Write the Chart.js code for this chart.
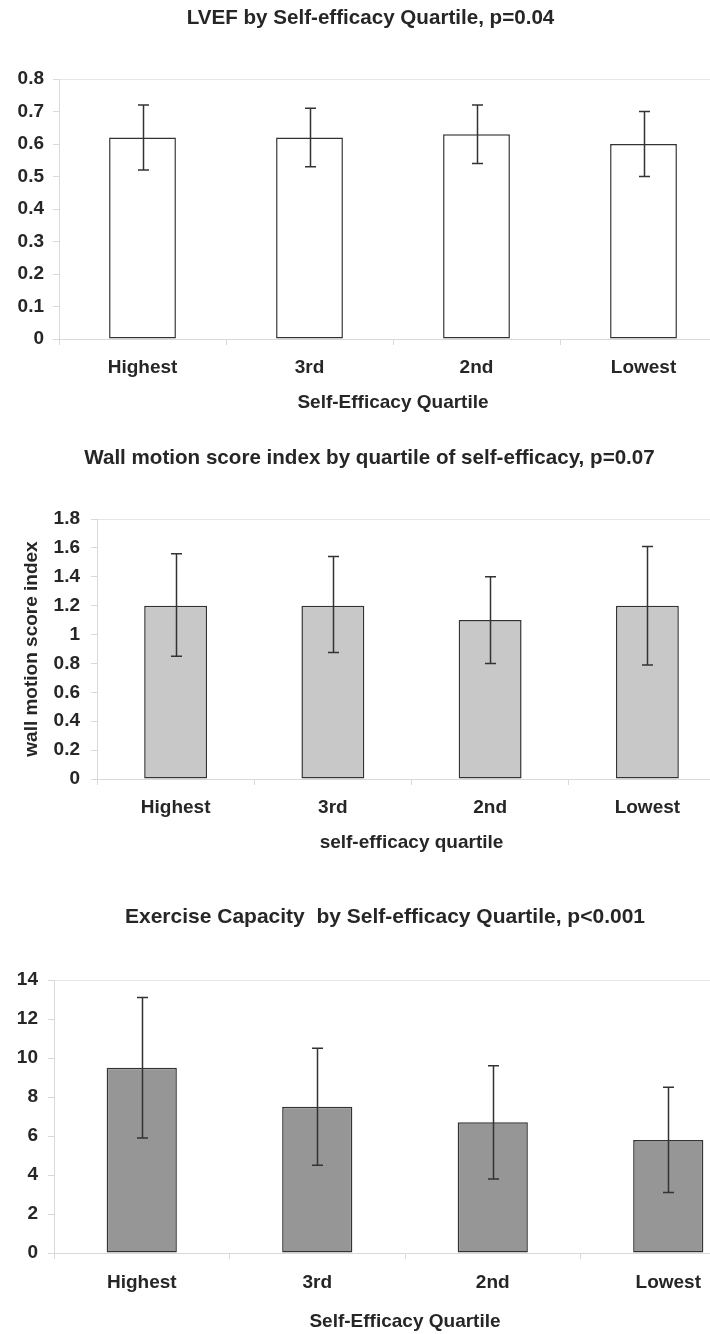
<!DOCTYPE html>
<html>
<head>
<meta charset="utf-8">
<script src="https://cdn.jsdelivr.net/npm/chart.js@4.4.1/dist/chart.umd.min.js"></script>
<style>
  html, body { margin: 0; padding: 0; background: #ffffff; width: 710px; height: 1334px; overflow: hidden; }
  .wrap { position: absolute; left: 0; }
  canvas { display: block; }
</style>
</head>
<body>
<div class="wrap" style="top:0px"><canvas id="c1" width="727" height="420"></canvas></div>
<div class="wrap" style="top:420px"><canvas id="c2" width="726" height="440"></canvas></div>
<div class="wrap" style="top:870px"><canvas id="c3" width="756" height="464"></canvas></div>
<script>
// ---- data ----
const categories = ['Highest', '3rd', '2nd', 'Lowest'];

const lvefMean = [0.62, 0.62, 0.63, 0.60];
const lvefLow  = [0.52, 0.53, 0.54, 0.50];
const lvefHigh = [0.72, 0.71, 0.72, 0.70];
const lvefTicks = ['0', '0.1', '0.2', '0.3', '0.4', '0.5', '0.6', '0.7', '0.8'];

const wmsiMean = [1.2, 1.2, 1.1, 1.2];
const wmsiLow  = [0.85, 0.875, 0.80, 0.79];
const wmsiHigh = [1.56, 1.54, 1.40, 1.61];
const wmsiTicks = ['0', '0.2', '0.4', '0.6', '0.8', '1', '1.2', '1.4', '1.6', '1.8'];

const exMean = [9.5, 7.5, 6.7, 5.8];
const exLow  = [5.9, 4.5, 3.8, 3.1];
const exHigh = [13.1, 10.5, 9.6, 8.5];
const exTicks = ['0', '2', '4', '6', '8', '10', '12', '14'];

// ---- styling ----
const FONT = "'Liberation Sans', Arial, Helvetica, sans-serif";
const TEXT = '#262626';
const AXIS = '#d9d9d9';
const INK = '#333333';

const errorBarPlugin = {
  id: 'errorBars',
  afterDatasetsDraw(chart, args, opts) {
    const meta = chart.getDatasetMeta(0);
    const y = chart.scales.y;
    const ctx = chart.ctx;
    ctx.save();
    ctx.strokeStyle = INK;
    ctx.lineWidth = 1.5;
    meta.data.forEach((bar, i) => {
      const x = Math.round(bar.x) + 0.5;
      const yl = y.getPixelForValue(opts.low[i]);
      const yh = y.getPixelForValue(opts.high[i]);
      ctx.beginPath();
      ctx.moveTo(x, yh); ctx.lineTo(x, yl);
      ctx.moveTo(x - 5.5, yh); ctx.lineTo(x + 5.5, yh);
      ctx.moveTo(x - 5.5, yl); ctx.lineTo(x + 5.5, yl);
      ctx.stroke();
    });
    ctx.restore();
  }
};

function makeChart(id, cfg) {
  return new Chart(document.getElementById(id), {
    type: 'bar',
    data: {
      labels: categories,
      datasets: [{
        data: cfg.mean,
        backgroundColor: cfg.fill,
        borderColor: INK,
        borderWidth: 1.5,
        borderSkipped: false,
        categoryPercentage: 1.0,
        barPercentage: 0.4
      }]
    },
    options: {
      responsive: false,
      animation: false,
      devicePixelRatio: 1,
      layout: { padding: { left: cfg.padLeft, right: 0, top: 0, bottom: 0 } },
      plugins: {
        legend: { display: false },
        tooltip: { enabled: false },
        title: {
          display: true,
          text: cfg.title,
          color: TEXT,
          font: { family: FONT, size: cfg.titleSize, weight: 'bold' },
          padding: { top: cfg.titleTop, bottom: cfg.titleBottom }
        },
        errorBars: { low: cfg.low, high: cfg.high }
      },
      scales: {
        x: {
          afterFit(scale) { scale.height = cfg.xHeight; },
          grid: { display: true, drawOnChartArea: false, drawTicks: true, tickLength: 6, color: AXIS, offset: true },
          border: { display: true, color: AXIS, width: 1 },
          ticks: { color: TEXT, padding: cfg.xPad, font: { family: FONT, size: 19, weight: 'bold' }, maxRotation: 0 },
          title: {
            display: true, text: cfg.xTitle, color: TEXT,
            font: { family: FONT, size: 19, weight: 'bold' },
            padding: { top: 0, bottom: cfg.xTitleBottom }
          }
        },
        y: {
          min: cfg.min, max: cfg.max,
          afterFit(scale) { scale.width = cfg.yWidth; },
          grid: {
            display: true, drawOnChartArea: true, drawTicks: true, tickLength: 6,
            tickColor: AXIS,
            color: (c) => (c.tick && c.tick.value === cfg.max) ? '#e6e6e6' : 'rgba(0,0,0,0)'
          },
          border: { display: true, color: AXIS, width: 1 },
          ticks: {
            stepSize: cfg.step, color: TEXT, padding: cfg.yPad,
            font: { family: FONT, size: 19, weight: 'bold' },
            callback: (v, i) => cfg.ticks[i]
          },
          title: cfg.yTitle ? {
            display: true, text: cfg.yTitle, color: TEXT,
            font: { family: FONT, size: 19, weight: 'bold' },
            padding: { top: cfg.yTitlePad, bottom: 0 }
          } : { display: false }
        }
      }
    },
    plugins: [errorBarPlugin]
  });
}

makeChart('c1', {
  title: 'LVEF by Self-efficacy Quartile, p=0.04',
  mean: lvefMean, low: lvefLow, high: lvefHigh, ticks: lvefTicks,
  fill: '#ffffff', min: 0, max: 0.8, step: 0.1,
  titleSize: 20.6, titleTop: 5.6, titleBottom: 48.7,
  xHeight: 81, xPad: 11.6, xTitle: 'Self-Efficacy Quartile', xTitleBottom: 5.6,
  padLeft: 14, yWidth: 45, yPad: 9
});

makeChart('c2', {
  title: 'Wall motion score index by quartile of self-efficacy, p=0.07',
  mean: wmsiMean, low: wmsiLow, high: wmsiHigh, ticks: wmsiTicks,
  fill: '#c8c8c8', min: 0, max: 1.8, step: 0.2,
  titleSize: 20.6, titleTop: 25.6, titleBottom: 48.7,
  xHeight: 81, xPad: 11.6, xTitle: 'self-efficacy quartile', xTitleBottom: 5.6,
  padLeft: 13, yWidth: 84, yPad: 11, yTitle: 'wall motion score index', yTitlePad: 7.6
});

makeChart('c3', {
  title: 'Exercise Capacity  by Self-efficacy Quartile, p<0.001',
  mean: exMean, low: exLow, high: exHigh, ticks: exTicks,
  fill: '#969696', min: 0, max: 14, step: 2,
  titleSize: 21, titleTop: 34.4, titleBottom: 50.4,
  xHeight: 81, xPad: 12.6, xTitle: 'Self-Efficacy Quartile', xTitleBottom: 0.6,
  padLeft: 14, yWidth: 40, yPad: 10
});
</script>
</body>
</html>
